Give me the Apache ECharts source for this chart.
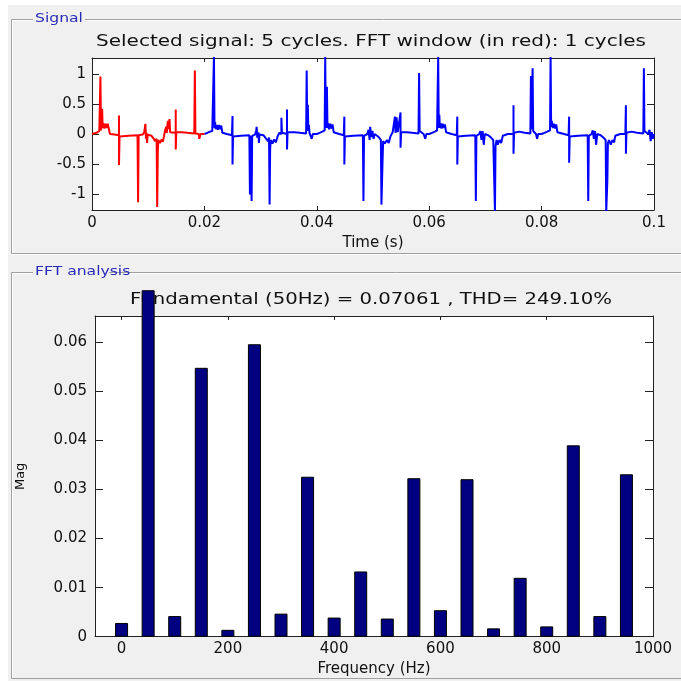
<!DOCTYPE html>
<html>
<head>
<meta charset="utf-8">
<script src="https://cdn.jsdelivr.net/npm/echarts@6/dist/echarts.min.js"></script>
<style>
html,body{margin:0;padding:0;background:#fff;}
#chart{width:681px;height:681px;}
</style>
</head>
<body>
<div id="chart"></div>
<script>
// ---- Data ----
const signalTitle = 'Selected signal: 5 cycles. FFT window (in red): 1 cycles';
const fftTitle = 'Fundamental (50Hz) = 0.07061 , THD= 249.10%';
const timeTicks = [0, 0.02, 0.04, 0.06, 0.08, 0.1];
const signalTicks = [-1, -0.5, 0, 0.5, 1];
const freqTicks = [0, 200, 400, 600, 800, 1000];
const magTicks = [0, 0.01, 0.02, 0.03, 0.04, 0.05, 0.06];

const freqs = [0, 50, 100, 150, 200, 250, 300, 350, 400, 450, 500, 550, 600, 650, 700, 750, 800, 850, 900, 950];
const mags = [0.0028, 0.07061, 0.0042, 0.0548, 0.0014, 0.0596, 0.0047, 0.0326, 0.0039, 0.0133,
              0.0037, 0.0323, 0.0054, 0.0321, 0.0017, 0.0120, 0.0021, 0.0390, 0.0042, 0.0331];

// FFT window (red): first cycle
const redSignal = [
 [0,0],[0.0008,0.02],[0.0013,0.05],[0.0015,0.96],[0.0016,0.06],[0.0018,0.42],[0.0019,0.10],[0.0020,0.18],
 [0.0022,0.09],[0.0024,0.17],[0.0026,0.10],[0.0028,0.17],[0.0031,0.15],[0.0032,0.0],[0.0040,-0.01],
 [0.0048,-0.02],[0.0048,0.31],[0.0048,-0.52],[0.0049,-0.04],[0.0065,-0.03],[0.0081,-0.02],[0.0082,-1.14],
 [0.0083,-0.02],[0.0090,-0.01],[0.0093,0.03],[0.0095,0.17],[0.0096,-0.08],[0.0097,0.02],[0.0098,-0.15],
 [0.0099,-0.01],[0.0106,-0.03],[0.0110,-0.08],[0.0112,-0.12],[0.0115,-0.08],[0.0116,-1.22],[0.0117,-0.32],
 [0.0118,-0.10],[0.0121,-0.15],[0.0124,-0.09],[0.0126,-0.13],[0.0128,-0.04],[0.0130,0.06],[0.0132,0.12],
 [0.0133,0.02],[0.0135,0.22],[0.0136,0.08],[0.0138,0.25],[0.0139,0.03],[0.0149,0.02],[0.0149,0.41],
 [0.0149,-0.26],[0.0150,0.03],[0.0160,0.03],[0.0170,0.02],[0.0182,0.01],[0.0183,1.06],[0.0184,0.01],
 [0.0190,0.0],[0.0191,-0.08],[0.0193,0.0],[0.0200,0.0]
];

// Rest of the selected signal (blue)
const blueSignal = [
 [0.0200,0.0],[0.0205,0.02],[0.0210,0.04],[0.0214,0.05],[0.0216,0.08],[0.0217,1.3],[0.0218,0.10],[0.0219,0.20],
 [0.0220,0.08],[0.0222,0.15],[0.0224,0.07],[0.0226,0.15],[0.0228,0.08],[0.0230,0.14],[0.0232,0.02],[0.0240,0.0],
 [0.0249,-0.02],[0.0250,0.30],[0.0250,-0.51],[0.0251,-0.04],[0.0265,-0.03],[0.0280,-0.02],[0.0281,-1.01],
 [0.0282,-0.03],[0.0284,-1.12],[0.0285,-0.03],[0.0290,-0.01],[0.0292,0.05],[0.0293,0.12],[0.0294,-0.06],
 [0.0296,0.03],[0.0297,-0.15],[0.0298,-0.01],[0.0305,-0.02],[0.0310,-0.08],[0.0313,-0.12],[0.0315,-0.06],
 [0.0316,-1.18],[0.0317,-0.25],[0.0318,-0.10],[0.0321,-0.16],[0.0324,-0.09],[0.0327,-0.14],[0.0330,-0.05],
 [0.0333,0.02],[0.0337,0.0],[0.0337,0.27],[0.0338,0.02],[0.0347,0.0],[0.0347,0.41],[0.0347,-0.26],[0.0348,0.03],
 [0.0360,0.03],[0.0370,0.02],[0.0381,0.01],[0.0382,1.06],[0.0383,0.05],[0.0384,0.49],[0.0385,0.05],[0.0386,0.15],
 [0.0387,0.02],[0.0390,0.0],[0.0391,-0.08],[0.0393,0.0],
 [0.0400,0.0],[0.0405,0.02],[0.0410,0.04],[0.0414,0.06],[0.0415,1.3],[0.0416,0.10],[0.0418,0.79],[0.0419,0.10],
 [0.0420,0.18],[0.0422,0.08],[0.0424,0.17],[0.0426,0.09],[0.0428,0.16],[0.0430,0.03],[0.0440,0.0],[0.0448,-0.02],
 [0.0449,0.29],[0.0449,-0.51],[0.0450,-0.04],[0.0465,-0.03],[0.0482,-0.02],[0.0483,-1.12],[0.0484,-0.03],
 [0.0490,0.0],[0.0492,0.07],[0.0494,-0.10],[0.0495,0.12],[0.0497,-0.05],[0.0499,0.05],[0.0501,-0.08],[0.0503,0.0],
 [0.0510,-0.05],[0.0514,-0.10],[0.0515,-1.18],[0.0517,-0.45],[0.0518,-0.12],[0.0521,-0.16],[0.0525,-0.10],
 [0.0528,-0.15],[0.0531,-0.04],[0.0535,0.03],[0.0539,0.29],[0.0540,0.02],[0.0542,0.28],[0.0544,0.03],
 [0.0549,0.36],[0.0549,-0.23],[0.0550,0.03],[0.0560,0.03],[0.0570,0.02],[0.0581,0.01],[0.0582,1.02],[0.0583,0.05],
 [0.0585,0.03],[0.0590,0.0],[0.0593,-0.08],[0.0595,0.0],
 [0.0600,0.0],[0.0605,0.02],[0.0610,0.04],[0.0614,0.06],[0.0616,1.3],[0.0617,0.10],[0.0618,0.32],[0.0619,0.10],
 [0.0620,0.18],[0.0622,0.09],[0.0624,0.17],[0.0626,0.10],[0.0628,0.16],[0.0630,0.03],[0.0640,0.0],[0.0649,-0.02],
 [0.0650,0.29],[0.0650,-0.51],[0.0651,-0.04],[0.0665,-0.03],[0.0682,-0.02],[0.0683,-1.12],[0.0684,-0.03],
 [0.0689,0.0],[0.0691,0.05],[0.0693,-0.10],[0.0695,0.05],[0.0697,-0.18],[0.0699,0.0],[0.0705,-0.02],[0.0710,-0.06],
 [0.0714,-0.10],[0.0716,-0.08],[0.0717,-1.3],[0.0718,-0.20],[0.0720,-0.10],[0.0722,-0.18],[0.0725,-0.10],
 [0.0728,-0.15],[0.0731,-0.03],[0.0740,0.0],[0.0750,0.0],[0.0750,0.48],[0.0750,-0.33],[0.0751,0.02],[0.0760,0.04],
 [0.0770,0.02],[0.0780,0.01],[0.0781,0.97],[0.0782,0.08],[0.0784,1.10],[0.0785,0.05],[0.0787,0.02],[0.0790,0.0],
 [0.0792,-0.08],[0.0794,0.0],
 [0.0800,0.0],[0.0805,0.02],[0.0810,0.04],[0.0815,0.06],[0.0816,1.3],[0.0817,0.12],[0.0818,0.22],[0.0820,0.10],
 [0.0822,0.17],[0.0824,0.09],[0.0826,0.16],[0.0828,0.03],[0.0840,0.0],[0.0848,-0.02],[0.0849,0.29],[0.0849,-0.48],
 [0.0850,-0.04],[0.0865,-0.03],[0.0882,-0.02],[0.0883,-1.12],[0.0884,-0.03],[0.0889,0.0],[0.0891,0.06],
 [0.0893,-0.08],[0.0895,0.05],[0.0897,-0.18],[0.0899,0.0],[0.0905,-0.02],[0.0910,-0.06],[0.0914,-0.10],
 [0.0915,-1.3],[0.0917,-0.78],[0.0918,-0.15],[0.0920,-0.10],[0.0923,-0.18],[0.0926,-0.10],[0.0929,-0.14],
 [0.0931,-0.03],[0.0940,0.0],[0.0949,0.0],[0.0950,0.48],[0.0950,-0.33],[0.0951,0.02],[0.0960,0.04],[0.0970,0.02],
 [0.0981,0.01],[0.0982,1.10],[0.0983,0.05],[0.0985,0.02],[0.0990,0.0],[0.0992,0.07],[0.0994,-0.12],[0.0996,0.03],
 [0.0998,-0.08],[0.1000,0.0]
];

// ---- Chart ----
const FONT = 'DejaVu Sans';
const plain = v => String(+v.toFixed(6));
const chart = echarts.init(document.getElementById('chart'), null, {renderer: 'canvas'});

function frameAxes(gridIndex, min, max, ticks, len, pos) {
  return {
    gridIndex: gridIndex, type: 'value', min: min, max: max, position: pos,
    axisLine: {show: true, onZero: false, lineStyle: {color: '#222', width: 1}},
    axisTick: {show: true, inside: true, length: len, customValues: ticks, lineStyle: {color: '#222'}},
    axisLabel: {show: false},
    splitLine: {show: false}
  };
}

const panelLine = (pts, color) => ({type: 'polyline', shape: {points: pts}, style: {stroke: color, lineWidth: 1, fill: null}, z: -5, silent: true});

const option = {
  animation: false,
  backgroundColor: '#ffffff',
  graphic: [
    {type: 'rect', shape: {x: 8, y: 5, width: 680, height: 680}, style: {fill: '#f0f0f0'}, z: -10, silent: true},
    // Signal panel (etched border)
    panelLine([[33, 19.5], [11.5, 19.5], [11.5, 253.5], [690, 253.5]], '#a0a0a0'),
    panelLine([[85, 19.5], [690, 19.5]], '#a0a0a0'),
    panelLine([[33, 20.5], [12.5, 20.5], [12.5, 252.5]], '#ffffff'),
    panelLine([[85, 20.5], [690, 20.5]], '#ffffff'),
    panelLine([[11.5, 254.5], [690, 254.5]], '#ffffff'),
    // FFT panel
    panelLine([[33, 272.5], [11.5, 272.5], [11.5, 678.5], [690, 678.5]], '#a0a0a0'),
    panelLine([[109, 272.5], [690, 272.5]], '#a0a0a0'),
    panelLine([[33, 273.5], [12.5, 273.5], [12.5, 677.5]], '#ffffff'),
    panelLine([[109, 273.5], [690, 273.5]], '#ffffff'),
    {type: 'text', x: 35, y: 19, scaleX: 1.3, z: 1, silent: true,
     style: {text: 'Signal', x: 0, y: 0, align: 'left', verticalAlign: 'middle', fill: '#2a2ab8', font: '12px "DejaVu Sans"'}},
    {type: 'text', x: 35, y: 272, scaleX: 1.3, z: 1, silent: true,
     style: {text: 'FFT analysis', x: 0, y: 0, align: 'left', verticalAlign: 'middle', fill: '#2a2ab8', font: '12px "DejaVu Sans"'}},
    {type: 'text', x: 371, y: 42, scaleX: 1.25, z: 1, silent: true,
     style: {text: signalTitle, x: 0, y: 0, align: 'center', verticalAlign: 'middle', fill: '#111', font: '16px "DejaVu Sans"'}},
    {type: 'text', x: 371, y: 300, scaleX: 1.23, z: 1, silent: true,
     style: {text: fftTitle, x: 0, y: 0, align: 'center', verticalAlign: 'middle', fill: '#111', font: '16px "DejaVu Sans"'}}
  ],
  grid: [
    {left: 92, right: 27, top: 58, height: 152, show: true, backgroundColor: '#ffffff', borderWidth: 0},
    {left: 95, right: 28, top: 316, height: 320.7, show: true, backgroundColor: '#ffffff', borderWidth: 0}
  ],
  xAxis: [
    {
      gridIndex: 0, type: 'value', min: 0, max: 0.1, position: 'bottom',
      name: 'Time (s)', nameLocation: 'middle', nameGap: 26,
      nameTextStyle: {fontFamily: FONT, fontSize: 15, color: '#111'},
      axisLine: {show: true, onZero: false, lineStyle: {color: '#222'}},
      axisTick: {show: true, inside: true, length: 4, customValues: timeTicks, lineStyle: {color: '#222'}},
      axisLabel: {show: true, customValues: timeTicks, formatter: plain, margin: 6, fontFamily: FONT, fontSize: 15, color: '#111'},
      splitLine: {show: false}
    },
    frameAxes(0, 0, 0.1, timeTicks, 4, 'top'),
    {
      gridIndex: 1, type: 'value', min: -50, max: 1000, position: 'bottom',
      name: 'Frequency (Hz)', nameLocation: 'middle', nameGap: 25,
      nameTextStyle: {fontFamily: FONT, fontSize: 15, color: '#111'},
      axisLine: {show: true, onZero: false, lineStyle: {color: '#222'}},
      axisTick: {show: true, inside: true, length: 4, customValues: freqTicks, lineStyle: {color: '#222'}},
      axisLabel: {show: true, customValues: freqTicks, formatter: plain, margin: 5, fontFamily: FONT, fontSize: 15, color: '#111'},
      splitLine: {show: false}
    },
    frameAxes(1, -50, 1000, freqTicks, 4, 'top')
  ],
  yAxis: [
    {
      gridIndex: 0, type: 'value', min: -1.27, max: 1.27, position: 'left',
      axisLine: {show: true, onZero: false, lineStyle: {color: '#222'}},
      axisTick: {show: true, inside: true, length: 7, customValues: signalTicks, lineStyle: {color: '#222'}},
      axisLabel: {show: true, customValues: signalTicks, formatter: plain, margin: 6, fontFamily: FONT, fontSize: 15, color: '#111'},
      splitLine: {show: false}
    },
    frameAxes(0, -1.27, 1.27, signalTicks, 7, 'right'),
    {
      gridIndex: 1, type: 'value', min: 0, max: 0.06536, position: 'left',
      name: 'Mag', nameLocation: 'middle', nameGap: 68, nameRotate: 90,
      nameTextStyle: {fontFamily: FONT, fontSize: 13, color: '#111'},
      axisLine: {show: true, onZero: false, lineStyle: {color: '#222'}},
      axisTick: {show: true, inside: true, length: 8, customValues: magTicks, lineStyle: {color: '#222'}},
      axisLabel: {show: true, customValues: magTicks, formatter: plain, margin: 8, fontFamily: FONT, fontSize: 15, color: '#111'},
      splitLine: {show: false}
    },
    frameAxes(1, 0, 0.06536, magTicks, 8, 'right')
  ],
  series: [
    {
      name: 'Signal', type: 'line', xAxisIndex: 0, yAxisIndex: 0, data: blueSignal,
      showSymbol: false, symbol: 'none', clip: true,
      lineStyle: {color: '#0000ff', width: 2}, z: 3
    },
    {
      name: 'FFT window', type: 'line', xAxisIndex: 0, yAxisIndex: 0, data: redSignal,
      showSymbol: false, symbol: 'none', clip: true,
      lineStyle: {color: '#ff0000', width: 2}, z: 3
    },
    {
      name: 'Mag', type: 'bar', xAxisIndex: 2, yAxisIndex: 2,
      data: freqs.map((f, i) => [f, mags[i]]),
      barWidth: 13, clip: false,
      itemStyle: {color: '#000080', borderColor: '#000000', borderWidth: 1},
      z: 5
    }
  ]
};
chart.setOption(option);
</script>
</body>
</html>
